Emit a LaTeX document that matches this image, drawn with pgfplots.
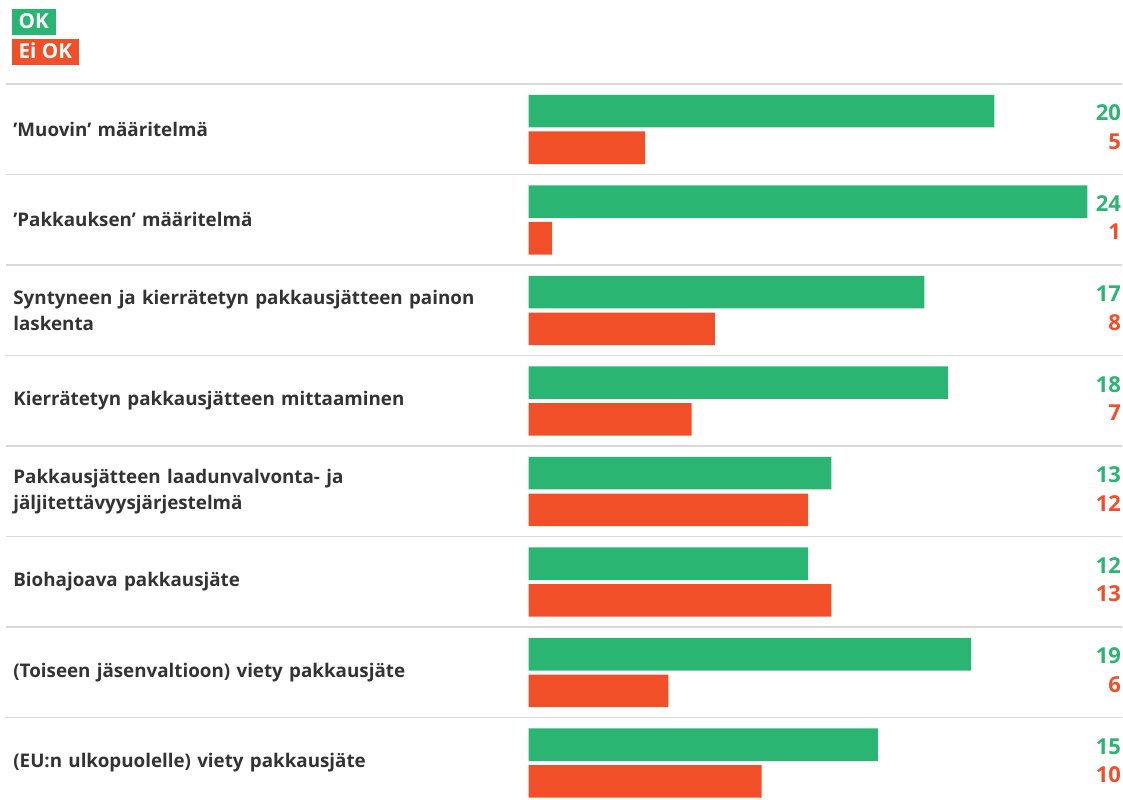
\documentclass[border=0pt]{standalone}
\usepackage{fontspec}
\setmainfont{Open Sans}
\usepackage{pgfplots}
\pgfplotsset{compat=1.18}
\usepackage{pgfplotstable}

\definecolor{okgreen}{HTML}{2BB573}
\definecolor{eired}{HTML}{F04F28}
\definecolor{txt}{HTML}{333333}
\definecolor{sep}{HTML}{D9D9D9}

% OK / Ei OK counts, one row per topic (top to bottom)
\pgfplotstableread{
ok ei
20 5
24 1
17 8
18 7
13 12
12 13
19 6
15 10
}\votes

\newcommand{\legbox}[2]{{\setlength{\fboxsep}{0pt}\bfseries\fontsize{15.5}{17}\selectfont
  \colorbox{#1}{\hspace{5pt}\rule[-4.6pt]{0pt}{19.5pt}\textcolor{white}{#2}\hspace{5.5pt}}}}

\begin{document}
\begin{tikzpicture}
\begin{axis}[
  scale only axis,
  width=837.75pt, height=537pt,
  xmin=-22.455, xmax=25.5,
  ymin=0, ymax=7.905,
  y dir=reverse,
  clip=false,
  axis line style={draw=none},
  major tick length=0pt, minor tick length=0pt,
  xtick=\empty,
  ytick={0.5,1.5,...,7.5},
  yticklabels={
    {’Muovin’ määritelmä},
    {’Pakkauksen’ määritelmä},
    {Syntyneen ja kierrätetyn pakkausjätteen painon\\laskenta},
    {Kierrätetyn pakkausjätteen mittaaminen},
    {Pakkausjätteen laadunvalvonta- ja\\jäljitettävyysjärjestelmä},
    {Biohajoava pakkausjäte},
    {(Toiseen jäsenvaltioon) viety pakkausjäte},
    {(EU:n ulkopuolelle) viety pakkausjäte}},
  yticklabel style={anchor=west, xshift=2pt, text width=380pt, align=left,
    font=\bfseries\fontsize{14.1}{19.5}\selectfont, text=txt},
  minor ytick={0,1,...,7},
  yminorgrids=true,
  minor grid style={sep, line width=1pt},
  /pgf/number format/assume math mode=true,
  legend style={at={(axis description cs:0.0027,1.109)}, anchor=north west,
    draw=none, fill=none, inner sep=0pt, row sep=2pt,
    cells={anchor=west, inner sep=0pt}},
  legend image code/.code={},
]
\addplot[xbar, bar width=0.36, bar shift=0pt, fill=okgreen, draw=none]
  table[x=ok, y expr=\coordindex+0.30] {\votes};
\addlegendentry{\legbox{okgreen}{OK}}
\addplot[xbar, bar width=0.36, bar shift=0pt, fill=eired, draw=none]
  table[x=ei, y expr=\coordindex+0.705] {\votes};
\addlegendentry{\legbox{eired}{Ei OK}}

\addplot[forget plot, draw=none, mark=none, nodes near coords, point meta=\thisrow{ok},
  nodes near coords style={anchor=east, inner xsep=0pt, text=okgreen, font=\bfseries\fontsize{16.5}{18}\selectfont}]
  table[x expr=25.45, y expr=\coordindex+0.32] {\votes};
\addplot[forget plot, draw=none, mark=none, nodes near coords, point meta=\thisrow{ei},
  nodes near coords style={anchor=east, inner xsep=0pt, text=eired, font=\bfseries\fontsize{16.5}{18}\selectfont}]
  table[x expr=25.45, y expr=\coordindex+0.635] {\votes};
\end{axis}
\path ([xshift=-4.5pt,yshift=63pt]current axis.north west);
\end{tikzpicture}
\end{document}
